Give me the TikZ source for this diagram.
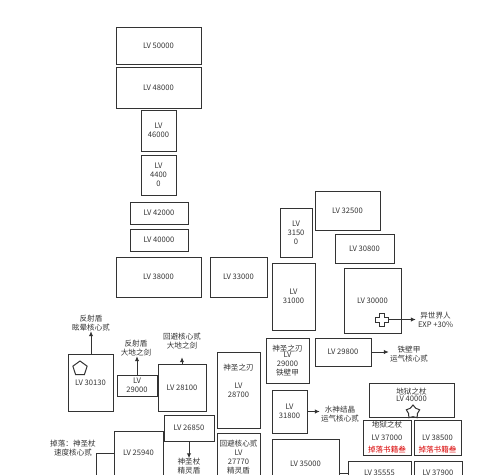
\documentclass[tikz,border=0pt]{standalone}
\usepackage{fontspec}
\setmainfont{Noto Sans CJK SC}
\usetikzlibrary{shapes.geometric,arrows.meta}
\newcommand\mybox[6]{\node[box, minimum width={#4-#2}, minimum height={#5-#3}] (#1) at (#2,#3) {#6};}
\begin{document}
\begin{tikzpicture}[x=1pt,y=-1pt,
  box/.style={draw=black!80, line width=1pt, anchor=north west, inner sep=0pt, outer sep=0pt, align=center, font=\fontsize{7.6}{9}\selectfont, text=black!80},
  lbl/.style={inner sep=0pt, align=center, font=\fontsize{7.6}{9}\selectfont, text=black!80},
  redlbl/.style={lbl, text=red!85!black},
  arr/.style={draw=black!80, line width=1pt, -{Latex[length=5pt,width=4.5pt]}},
  lnk/.style={draw=black!80, line width=1pt},
]
\useasboundingbox (0,0) rectangle (500,474);
\clip (0,0) rectangle (500,474);
% column of boxes
\mybox{b50000}{116}{27}{201}{64}{LV 50000}
\mybox{b48000}{116}{67}{201}{108}{LV 48000}
\mybox{b46000}{141}{110}{176}{151}{LV\\46000}
\mybox{b44000}{141}{155}{176}{195}{LV\\4400\\0}
\mybox{b42000}{130}{202}{188}{224}{LV 42000}
\mybox{b40000}{130}{229}{188}{251}{LV 40000}
\mybox{b38000}{116}{257}{201}{297}{LV 38000}
\mybox{b33000}{210}{257}{267}{297}{LV 33000}
\mybox{b31500}{280}{208}{312}{257}{LV\\3150\\0}
\mybox{b32500}{315}{191}{380}{230}{LV 32500}
\mybox{b30800}{335}{234}{394}{263}{LV 30800}
\mybox{b31000}{272}{263}{315}{330}{LV\\31000}
\mybox{b30000}{344}{268}{401}{333}{LV 30000}
\mybox{b30130}{68}{354}{113}{411}{LV 30130}
\mybox{b29000a}{117}{375}{157}{396}{LV\\29000}
\mybox{b28100}{158}{364}{206}{411}{LV 28100}
\mybox{b28700}{217}{352}{260}{428}{}
\mybox{b29000b}{266}{338}{309}{383}{}
\mybox{b29800}{315}{338}{371}{366}{LV 29800}
\mybox{b31800}{272}{390}{307}{433}{LV\\31800}
\mybox{b35000}{272}{439}{339}{500}{}
\mybox{b27770}{217}{433}{260}{500}{}
\mybox{b26850}{164}{415}{214}{441}{LV 26850}
\mybox{bleft}{96}{453}{114}{500}{}
\mybox{b25940}{114}{431}{163}{500}{}
\mybox{b40000h}{369}{383}{454}{417}{}
\mybox{b37000}{363}{420}{411}{455}{}
\mybox{b38500}{414}{420}{461}{455}{}
\mybox{b35555}{348}{461}{411}{500}{}
\mybox{b37900}{414}{461}{462}{500}{}

% texts inside boxes
\node[lbl] (t28700a) at (238.5,368) {神圣之刃};
\node[lbl] (t28700b) at (238.5,390) {LV\\28700};
\node[lbl] (t29000a) at (287.5,349) {神圣之刃};
\node[lbl] (t29000b) at (287.5,364) {LV\\29000\\铁壁甲};
\node[lbl] (t35000) at (305.5,464) {LV 35000};
\node[lbl] (t27770) at (238.5,457) {回避核心贰\\LV\\27770\\精灵盾};
\node[lbl] (t25940) at (138.5,453) {LV 25940};
\node[lbl] (t40000a) at (411.5,392) {地狱之杖};
\node[lbl] (t40000b) at (411.5,399) {LV 40000};
\node[lbl] (t37000a) at (387,425) {地狱之杖};
\node[lbl] (t37000b) at (387,438) {LV 37000};
\node[redlbl] (t37000c) at (387,450) {掉落书籍叁};
\node[lbl] (t38500b) at (437.5,438) {LV 38500};
\node[redlbl] (t38500c) at (437.5,450) {掉落书籍叁};
\node[lbl] (t35555) at (379.5,473) {LV 35555};
\node[lbl] (t37900) at (438,473) {LV 37900};

% symbols
\node[regular polygon, regular polygon sides=5, draw=black!80, line width=1pt, minimum size=15pt, inner sep=0pt] (pent) at (80,368.5) {};
\node[star, star points=5, draw=black!80, fill=white, line width=1pt, minimum size=14pt, inner sep=0pt] (star) at (413,412) {};
\draw[lnk, fill=white] (379.5,313) -- (384.5,313) -- (384.5,317) -- (388.5,317) -- (388.5,322) -- (384.5,322) -- (384.5,326) -- (379.5,326) -- (379.5,322) -- (375.5,322) -- (375.5,317) -- (379.5,317) -- cycle;
\coordinate (crossR) at (388.5,319.5);

% annotations
\node[lbl] (a30130) at (91,323) {反射盾\\眩晕核心贰};
\node[lbl] (a29000) at (136,348) {反射盾\\大地之剑};
\node[lbl] (a28100) at (182,341) {回避核心贰\\大地之剑};
\node[lbl] (a30000) at (435.5,320) {异世界人\\EXP +30\%};
\node[lbl] (a29800) at (409,354) {铁壁甲\\运气核心贰};
\node[lbl] (a31800) at (340,414) {水神结晶\\运气核心贰};
\node[lbl] (a26850) at (189,466.5) {神圣杖\\精灵盾};
\node[lbl] (a25940) at (73,448.5) {掉落：神圣杖\\速度核心贰};

% connectors
\draw[arr] (b30130.north -| a30130) -- (a30130.south);
\draw[arr] (b29000a.north) -- (b29000a.north |- a29000.south);
\draw[arr, shorten >=8pt] (b28100.north) -- (b28100.north |- a28100.south);
\draw[arr, shorten >=2pt] (crossR) -- (crossR -| a30000.west);
\draw[arr, shorten >=1pt] (b29800.east) -- (b29800.east -| a29800.west);
\draw[arr, shorten >=1pt] (b31800.east) -- (b31800.east -| a31800.west);
\draw[arr] (b26850.south) -- (b26850.south |- a26850.north);
\coordinate (j1) at (339,473);
\draw[lnk] (j1) -- (j1 -| b35555.west);
\end{tikzpicture}
\end{document}
